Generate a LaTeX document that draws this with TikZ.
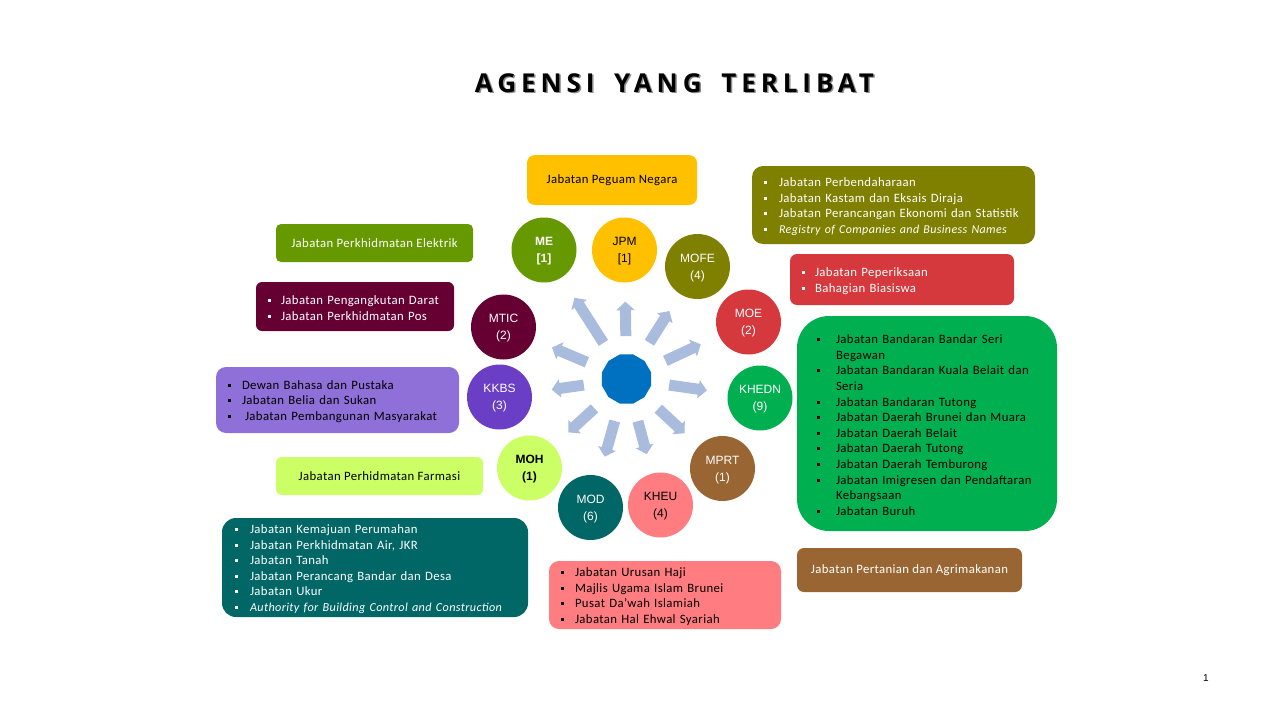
\documentclass[tikz,border=0pt]{standalone}
\usepackage{fontspec}
\setmainfont[LetterSpace=3]{Carlito}
\newfontfamily\circfont{Liberation Sans}
\newfontfamily\titlefont[LetterSpace=19]{Open Sans}
\usetikzlibrary{shapes.geometric,arrows.meta}
\definecolor{cme}{HTML}{669900}
\definecolor{cjpm}{HTML}{FFC000}
\definecolor{cmofe}{HTML}{808000}
\definecolor{cmoe}{HTML}{D5393D}
\definecolor{ckhedn}{HTML}{00B050}
\definecolor{cmprt}{HTML}{996633}
\definecolor{ckheu}{HTML}{FF7C80}
\definecolor{cmod}{HTML}{006666}
\definecolor{cmoh}{HTML}{CCFF66}
\definecolor{ckkbs}{HTML}{6A3FC6}
\definecolor{cmtic}{HTML}{660033}
\definecolor{chub}{HTML}{0070C0}
\definecolor{cspoke}{HTML}{A9BCDD}
\definecolor{cpurple}{HTML}{8F6FD8}
\newcommand{\itm}[2][15pt]{\makebox[#1][l]{\rule[2.5pt]{3pt}{3pt}}#2}
\newcommand{\cont}[1]{\hspace{19pt}#1}
\newcommand{\lab}[2]{\rule{0pt}{11pt}#1\\{#2}}
\newcommand{\slant}[1]{\fontsize{#1}{15.6}\selectfont\itshape}
\newcommand{\titletext}{AGENSI\hspace{8pt} YANG\hspace{8pt} TERLIBAT}
\begin{document}
\begin{tikzpicture}[x=1pt,y=-1pt]
      \tikzset{
        circ/.style={circle,inner sep=0pt,minimum size=65pt,align=center,text=white,
          font=\circfont\fontsize{12}{17}\selectfont},
        labelbox/.style={rectangle,inner ysep=0pt,align=center,text=white,
          font=\fontsize{12.75}{15.6}\selectfont},
        listbox/.style={labelbox,align=left,execute at begin node={\leavevmode\rule{0pt}{12pt}}},
        spoke/.style={cspoke,line width=11pt,shorten <=18pt,
          -{Triangle[width=18pt,length=8.5pt]}}
      }
      \useasboundingbox (0,0) rectangle (1280,720);

      \node[text=black!45,font=\titlefont\bfseries\fontsize{26}{30}\selectfont] (titleshade) at (676,84.5) {\titletext};
      \node[font=\titlefont\bfseries\fontsize{26}{30}\selectfont] (title) at (674.5,83) {\titletext};

      \node[regular polygon,regular polygon sides=12,fill=chub,inner sep=0pt,minimum size=51pt] (hub) at (626.5,379) {};

      \node[circ,fill=cme,font=\circfont\bfseries\fontsize{12}{17}\selectfont] (me) at (544,250) {\lab{ME}{[1]}};
      \node[circ,fill=cjpm,text=black] (jpm) at (624.5,250) {\lab{JPM}{[1]}};
      \node[circ,fill=cmofe] (mofe) at (697.5,266.5) {\lab{MOFE}{(4)}};
      \node[circ,fill=cmoe] (moe) at (748.5,322) {\lab{MOE}{(2)}};
      \node[circ,fill=ckhedn] (khedn) at (760,398) {\lab{KHEDN}{(9)}};
      \node[circ,fill=cmprt] (mprt) at (722.5,468.5) {\lab{MPRT}{(1)}};
      \node[circ,fill=ckheu,text=black] (kheu) at (660.5,505) {\lab{KHEU}{(4)}};
      \node[circ,fill=cmod] (mod) at (590.5,507.5) {\lab{MOD}{(6)}};
      \node[circ,fill=cmoh,text=black,font=\circfont\bfseries\fontsize{12}{17}\selectfont] (moh) at (529.5,468) {\lab{MOH}{(1)}};
      \node[circ,fill=ckkbs] (kkbs) at (499.5,397) {\lab{KKBS}{(3)}};
      \node[circ,fill=cmtic] (mtic) at (503.5,327) {\lab{MTIC}{(2)}};

      \foreach \agency/\gap in {me/24,jpm/19,mofe/20,moe/20,khedn/21,mprt/19,kheu/20,mod/20,moh/20,kkbs/20,mtic/20}
        \draw[spoke,shorten >=\gap pt] (hub) -- (\agency);

      \node[labelbox,fill=cjpm,text=black,rounded corners=8pt,minimum width=170pt,minimum height=50pt] (bjpm) at (612,180) {Jabatan Peguam Negara};
      \node[listbox,fill=cmofe,rounded corners=11pt,minimum height=78pt,inner xsep=12pt,text width=259pt] (bmofe) at (893.5,205)
        {\itm{Jabatan Perbendaharaan}\\\itm{Jabatan Kastam dan Eksais Diraja}\\\itm{Jabatan Perancangan Ekonomi dan Statistik}\\\itm{\slant{12}Registry of Companies and Business Names}};
      \node[listbox,fill=cmoe,rounded corners=7pt,minimum height=51pt,inner xsep=12pt,text width=200pt] (bmoe) at (902,279.5)
        {\itm[13pt]{Jabatan Peperiksaan}\\\itm[13pt]{Bahagian Biasiswa}};
      \node[listbox,fill=ckhedn,text=black,rounded corners=32pt,minimum height=215pt,inner xsep=20pt,text width=220pt] (bkhedn) at (927,423.5)
        {\itm[19pt]{Jabatan Bandaran Bandar Seri}\\\cont{Begawan}\\
         \itm[19pt]{Jabatan Bandaran Kuala Belait dan}\\\cont{Seria}\\
         \itm[19pt]{Jabatan Bandaran Tutong}\\\itm[19pt]{Jabatan Daerah Brunei dan Muara}\\
         \itm[19pt]{Jabatan Daerah Belait}\\\itm[19pt]{Jabatan Daerah Tutong}\\\itm[19pt]{Jabatan Daerah Temburong}\\
         \itm[19pt]{Jabatan Imigresen dan Pendaftaran}\\\cont{Kebangsaan}\\\itm[19pt]{Jabatan Buruh}};
      \node[labelbox,fill=cmprt,rounded corners=7pt,minimum width=225pt,minimum height=44pt] (bmprt) at (909.5,570) {Jabatan Pertanian dan Agrimakanan};
      \node[labelbox,fill=cme,rounded corners=5pt,minimum width=197pt,minimum height=38pt] (bme) at (374.5,243) {Jabatan Perkhidmatan Elektrik};
      \node[listbox,fill=cmtic,rounded corners=6pt,minimum height=49pt,inner xsep=12pt,text width=174pt] (bmtic) at (355,306.5)
        {\itm[13pt]{Jabatan Pengangkutan Darat}\\\itm[13pt]{Jabatan Perkhidmatan Pos}};
      \node[listbox,fill=cpurple,text=black,rounded corners=10pt,minimum height=66pt,inner xsep=12pt,text width=219pt] (bkkbs) at (337.5,400)
        {\itm[14pt]{Dewan Bahasa dan Pustaka}\\\itm[14pt]{Jabatan Belia dan Sukan}\\\itm[17pt]{Jabatan Pembangunan Masyarakat}};
      \node[labelbox,fill=cmoh,text=black,rounded corners=6pt,minimum width=207pt,minimum height=38pt] (bmoh) at (379.5,476) {Jabatan Perhidmatan Farmasi};
      \node[listbox,fill=cmod,rounded corners=14pt,minimum height=99pt,inner xsep=13pt,text width=280pt] (bmod) at (375,567.5)
        {\itm{Jabatan Kemajuan Perumahan}\\\itm{Jabatan Perkhidmatan Air, JKR}\\\itm{Jabatan Tanah}\\\itm{Jabatan Perancang Bandar dan Desa}\\\itm{Jabatan Ukur}\\\itm{\slant{12.2}Authority for Building Control and Construction}};
      \node[listbox,fill=ckheu,text=black,rounded corners=10pt,minimum height=68pt,inner xsep=12pt,text width=208pt] (bkheu) at (665,595)
        {\itm[14pt]{Jabatan Urusan Haji}\\\itm[14pt]{Majlis Ugama Islam Brunei}\\\itm[14pt]{Pusat Da'wah Islamiah}\\\itm[14pt]{Jabatan Hal Ehwal Syariah}};

      \node[font=\circfont\fontsize{10}{12}\selectfont] (pageno) at (1206,678) {1};
\end{tikzpicture}
\end{document}
